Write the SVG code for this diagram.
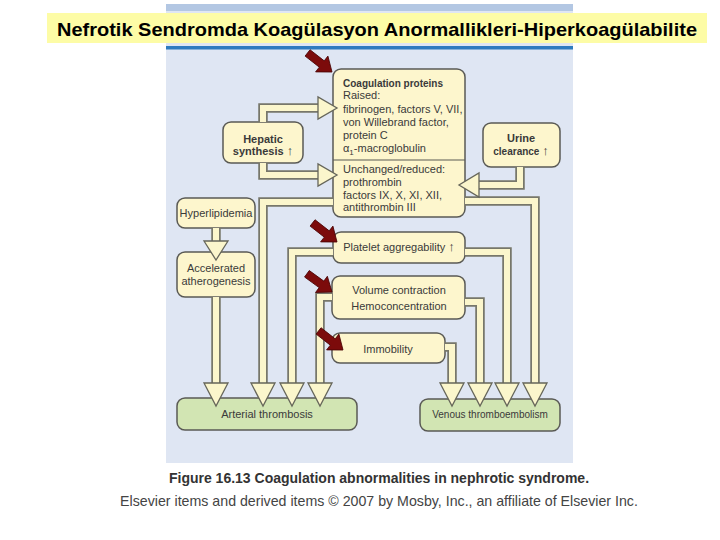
<svg xmlns="http://www.w3.org/2000/svg" width="720" height="540" viewBox="0 0 720 540">
<defs>
<style>
text{font-family:"Liberation Sans",Arial,sans-serif;fill:#3a3a3a;font-size:11px}
.b{font-weight:bold}
.c{text-anchor:middle}
.node{fill:#fdf6cd;stroke:#5a5a55;stroke-width:1.5}
.out{fill:#d2e5b3;stroke:#5a5a55;stroke-width:1.5}
.bo{fill:none;stroke:#77776a;stroke-width:9.5}
.bi{fill:none;stroke:#fbf6cc;stroke-width:6}
.ah{fill:#fbf6cc;stroke:#66665a;stroke-width:1.3;stroke-linejoin:miter}
.red{fill:#7c0b0b;stroke:#4a0505;stroke-width:0.8}
.up{font-size:13px}
</style>
<path id="redArrow" d="M-31,-4 L-13,-4 L-13,-10 L0,0 L-13,10 L-13,4 L-31,4 Z"/>
</defs>
<rect x="0" y="0" width="720" height="540" fill="#ffffff"/>
<!-- panel -->
<rect x="166" y="4" width="407" height="459" fill="#dfe6f3"/>
<rect x="166" y="4" width="407" height="7" fill="#b3c7e3"/>
<rect x="166" y="46" width="407" height="3.5" fill="#2e7bbf"/>
<!-- title -->
<g id="title">
<rect x="47" y="13" width="660" height="30" fill="#fdfca6"/>
<text x="377" y="36" class="b c" style="font-size:18.5px;fill:#000" textLength="640" lengthAdjust="spacingAndGlyphs">Nefrotik Sendromda Koagülasyon Anormallikleri-Hiperkoagülabilite</text>
</g>
<!-- nodes -->
<g id="coag">
<rect x="333" y="69" width="132" height="148" rx="8" class="node"/>
<line x1="333" y1="160" x2="465" y2="160" stroke="#5a5a55" stroke-width="1.2"/>
<text x="343" y="87" class="b" style="font-size:10px">Coagulation proteins</text>
<text x="343" y="99">Raised:</text>
<text x="343" y="113">fibrinogen, factors V, VII,</text>
<text x="343" y="126">von Willebrand factor,</text>
<text x="343" y="139">protein C</text>
<text x="343" y="152">α<tspan dy="2.5" style="font-size:8px">1</tspan><tspan dy="-2.5">-macroglobulin</tspan></text>
<text x="343" y="173">Unchanged/reduced:</text>
<text x="343" y="186">prothrombin</text>
<text x="343" y="199">factors IX, X, XI, XII,</text>
<text x="343" y="211">antithrombin III</text>
</g>
<g id="hepatic">
<rect x="223" y="122" width="80" height="41" rx="8" class="node"/>
<text x="263" y="143" class="b c">Hepatic</text>
<text x="263" y="155" class="b c">synthesis <tspan class="up" style="font-weight:normal">↑</tspan></text>
</g>
<g id="urine">
<rect x="483" y="123" width="77" height="44" rx="8" class="node"/>
<text x="521" y="142" class="b c">Urine</text>
<text x="521" y="155" class="b c" style="font-size:10px">clearance <tspan class="up" style="font-weight:normal">↑</tspan></text>
</g>
<g id="hyperlipidemia">
<rect x="177" y="198" width="78" height="30" rx="8" class="node"/>
<text x="216" y="217" class="c">Hyperlipidemia</text>
</g>
<g id="athero">
<rect x="177" y="252" width="78" height="45" rx="8" class="node"/>
<text x="216" y="272" class="c">Accelerated</text>
<text x="216" y="285" class="c">atherogenesis</text>
</g>
<g id="platelet">
<rect x="333" y="232" width="132" height="31" rx="8" class="node"/>
<text x="399" y="251" class="c">Platelet aggregability <tspan class="up">↑</tspan></text>
</g>
<g id="volume">
<rect x="332" y="276" width="133" height="43" rx="8" class="node"/>
<text x="399" y="294" class="c">Volume contraction</text>
<text x="399" y="310" class="c">Hemoconcentration</text>
</g>
<g id="immobility">
<rect x="332" y="333" width="113" height="30" rx="8" class="node"/>
<text x="388" y="353" class="c">Immobility</text>
</g>
<g id="arterial">
<rect x="177" y="398" width="180" height="32" rx="8" class="out"/>
<text x="267" y="418" class="c">Arterial thrombosis</text>
</g>
<g id="venous">
<rect x="420" y="399" width="140" height="32" rx="8" class="out"/>
<text x="490" y="418" class="c" style="font-size:10px">Venous thromboembolism</text>
</g>
<!-- connectors -->
<g id="connectors">
<path class="bo" d="M263,122 V108 H318"/>
<path class="bo" d="M263,163 V175 H318"/>
<path class="bo" d="M520,167 V185 H479"/>
<path class="bo" d="M465,201 H535 V383"/>
<path class="bo" d="M333,202 H263 V383"/>
<path class="bo" d="M333,252 H292 V383"/>
<path class="bo" d="M465,252 H507 V383"/>
<path class="bo" d="M332,297 H320 V383"/>
<path class="bo" d="M465,302 H480 V383"/>
<path class="bo" d="M445,347 H452 V383"/>
<path class="bo" d="M216,228 V241"/>
<path class="bo" d="M216,297 V383"/>
<path class="bi" d="M263,122 V108 H318"/>
<path class="bi" d="M263,163 V175 H318"/>
<path class="bi" d="M520,167 V185 H479"/>
<path class="bi" d="M465,201 H535 V383"/>
<path class="bi" d="M333,202 H263 V383"/>
<path class="bi" d="M333,252 H292 V383"/>
<path class="bi" d="M465,252 H507 V383"/>
<path class="bi" d="M332,297 H320 V383"/>
<path class="bi" d="M465,302 H480 V383"/>
<path class="bi" d="M445,347 H452 V383"/>
<path class="bi" d="M216,228 V241"/>
<path class="bi" d="M216,297 V383"/>
<polygon class="ah" points="318,97 318,119 337,108"/>
<polygon class="ah" points="318,164 318,186 337,175"/>
<polygon class="ah" points="479,173 479,197 459,185"/>
<polygon class="ah" points="204,241 228,241 216,260"/>
<polygon class="ah" points="204,383 228,383 216,406"/>
<polygon class="ah" points="251,383 275,383 263,406"/>
<polygon class="ah" points="280,383 304,383 292,406"/>
<polygon class="ah" points="308,383 332,383 320,406"/>
<polygon class="ah" points="440,383 464,383 452,406"/>
<polygon class="ah" points="468,383 492,383 480,406"/>
<polygon class="ah" points="495,383 519,383 507,406"/>
<polygon class="ah" points="523,383 547,383 535,406"/>
</g>
<!-- red pointers -->
<g id="pointers" class="red">
<use href="#redArrow" transform="translate(332,72) rotate(38)"/>
<use href="#redArrow" transform="translate(337,242) rotate(38)"/>
<use href="#redArrow" transform="translate(332,292) rotate(36)"/>
<use href="#redArrow" transform="translate(343,350) rotate(38)"/>
</g>
<!-- caption -->
<g id="caption">
<text x="379" y="483" class="b c" style="font-size:14px;fill:#333">Figure 16.13 Coagulation abnormalities in nephrotic syndrome.</text>
<text x="379" y="506" class="c" style="font-size:14.2px;fill:#444">Elsevier items and derived items © 2007 by Mosby, Inc., an affiliate of Elsevier Inc.</text>
</g>
</svg>
